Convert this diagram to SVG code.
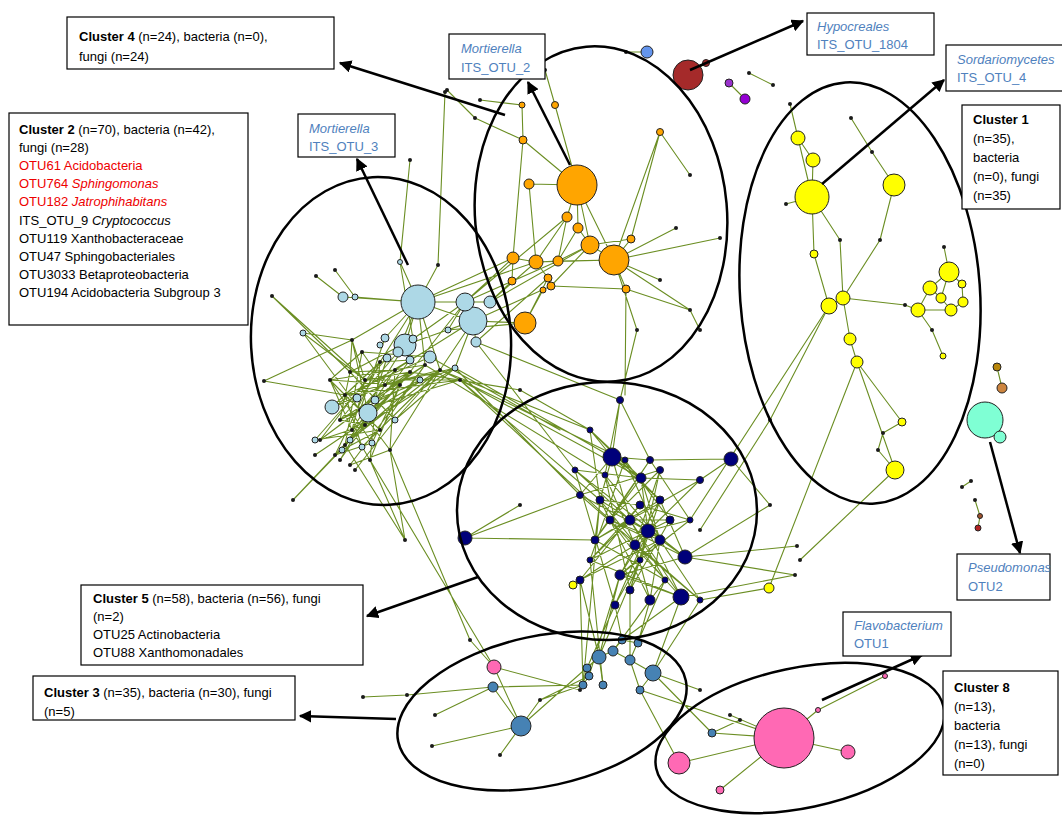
<svg xmlns="http://www.w3.org/2000/svg" width="1062" height="815" viewBox="0 0 1062 815">
<defs>
<style>
.e{fill:none;stroke:#6b8e23;stroke-width:1.1;stroke-linecap:round}
.d{fill:#1a1a1a}
.n{stroke:#222;stroke-width:1}
.lb{fill:#add8e6}.or{fill:#ffa500}.ye{fill:#ffff00}.nv{fill:#00007a}.sb{fill:#4682b4}.pk{fill:#ff69b4}
.ell{fill:none;stroke:#000;stroke-width:2.5}
.box{fill:#fff;stroke:#000;stroke-width:1.2}
.t{font-family:"Liberation Sans",Arial,sans-serif;font-size:13px;fill:#000}
.bl{fill:#4f81bd}
.r{fill:#ee0000}
.b{font-weight:bold}
.i{font-style:italic}
.arr{stroke:#000;stroke-width:2.5;fill:none;marker-end:url(#ah)}
</style>
<marker id="ah" viewBox="0 0 10 10" refX="9" refY="5" markerWidth="5" markerHeight="5" orient="auto" markerUnits="strokeWidth"><path d="M0 0L10 5L0 10z" fill="#000"/></marker>
</defs>
<rect width="1062" height="815" fill="#fff"/>
<g id="connectors">
<path class="e" d="M418 302L405 345M418 302L398 352M418 302L385 338M418 302L380 362M418 302L355 297M418 302L465 302M418 302L473 321M418 302L425 365M418 302L352 340M418 302L343 297M418 302L400 262M418 302L440 370M473 321L440 370M473 321L448 330M473 321L455 368M473 321L405 345M473 321L395 370M473 321L476 342M465 302L448 330M465 302L410 372M465 302L413 339M465 302L490 302M352 340L350 372M352 340L365 380M362 352L385 385M380 362L345 395M395 370L360 410M410 372L365 425M425 365L380 430M440 370L390 450M350 372L340 420M365 380L352 430M385 385L345 445M400 385L370 460M345 395L380 430M360 410L390 450M340 420L365 425M352 430L370 460M365 425L320 440M380 430L330 380M345 445L362 352M370 460L380 362M390 450L395 370M320 440L410 372M330 380L425 365M455 368L385 385M460 380L365 380M460 380L360 410M455 368L365 425M440 370L345 395M425 365L340 420M410 372L345 445M395 370L350 372M380 362L320 440M362 352L330 380M368 413L352 340M368 413L440 370M332 407L380 362M332 407L385 385M375 400L455 368M375 400L425 365M357 398L410 372M303 333L365 380M303 333L360 410M342 450L395 370M362 447L440 370M372 443L400 385M345 395L460 380M330 380L400 385M400 385L352 430M410 372L400 385M430 357L362 352M430 357L345 395M413 339L350 372M398 352L340 420M405 345L352 430M385 338L360 410M340 420L420 380M395 420L350 372M395 420L440 370M350 440L410 360M315 440L387 358M315 440L380 430M335 455L410 372M335 455L380 362M350 465L425 365M355 470L395 420M340 460L368 413M372 443L330 380M362 447L345 395M342 450L380 430M350 440L440 370M395 420L455 368M420 380L345 445M387 358L365 425M410 360L332 407M320 440L360 410M330 380L352 430M345 395L340 420M365 380L410 372M380 362L410 360M335 455L372 443M350 465L390 450M340 460L365 425"/>
<path class="e" d="M272 296L350 372M272 296L365 380M264 381L345 395M264 381L352 340M303 333L352 340M293 500L345 445M293 500L365 425M315 455L352 430M405 540L370 460M405 540L390 450M316 276L343 297M335 270L355 297M400 262L413 339M445 92L438 265M438 265L418 302M410 160L400 262M440 370L590 430M455 368L612 457M460 380L600 500M476 342L575 470M425 365L605 475M440 370L625 460M455 368L580 495M460 380L641 478M476 342L620 400M430 357L560 430M410 372L520 390M520 390L590 430M460 380L610 520M370 460L494 667M390 450L470 640M345 445L405 540M465 302L513 258M490 302L536 262M418 302L513 258M473 321L525 323M465 302L558 261M490 302L590 245M418 302L536 262M476 342L548 278M473 321L551 286M448 330L525 323M490 302L512 281M465 302L567 217"/>
<path class="e" d="M577 185L555 105M577 185L523 140M577 185L529 184M577 185L567 217M577 185L578 228M577 185L590 245M577 185L614 260M567 217L536 262M567 217L558 261M578 228L558 261M578 228L590 245M590 245L614 260M590 245L631 239M614 260L626 289M614 260L631 239M614 260L690 310M614 260L660 280M536 262L513 258M536 262L548 278M536 262L558 261M513 258L512 281M548 278L551 286M548 278L525 323M525 323L543 290M558 261L590 245M558 261L614 260M551 286L626 289M536 262L614 260M660 132L690 175M660 132L614 260M523 140L522 105M522 105L480 100M555 105L545 70M447 90L475 118M475 118L523 140M614 260L676 228M614 260L720 238M626 289L625 395M614 260L637 330M637 330L620 400M590 245L551 286M529 184L536 262M523 140L513 258M660 132L631 239M626 289L690 310M690 310L700 330"/>
<path class="e" d="M612 457L641 478M612 457L600 500M612 457L630 520M612 457L660 500M612 457L590 430M612 457L620 400M612 457L650 460M612 457L580 495M641 478L648 531M641 478L610 520M641 478L660 540M641 478L595 540M641 478L700 480M641 478L575 470M648 531L685 557M648 531L681 597M648 531L620 575M648 531L600 500M648 531L580 495M648 531L690 520M648 531L630 590M660 540L610 520M660 540L620 575M660 540L700 600M660 540L625 460M635 545L660 470M635 545L580 580M635 545L650 600M635 545L605 475M630 520L681 597M630 520L665 580M630 520L590 560M630 520L670 520M610 520L640 560M610 520L660 470M610 520L685 557M600 500L640 505M600 500L650 600M600 500L595 540M660 500L595 540M660 500L620 575M660 500L685 557M640 505L580 580M640 505L690 520M670 520L590 560M670 520L630 590M650 460L595 540M650 460L690 520M660 470L580 495M700 480L648 531M700 480L630 520M575 470L630 520M605 475L660 540M625 460L670 520M590 560L681 597M640 560L615 605M665 580L600 500M690 520L620 575M700 600L635 545M580 580L660 540M630 590L660 500M615 605L648 531M685 557L620 575M681 597L610 520M650 600L660 540M620 575L681 597M590 430L641 478M620 400L650 460M620 400L605 475M590 430L600 500M575 470L685 557M731 459L700 480M731 459L650 460M731 459L770 505M685 557L797 546M681 597L795 575M685 557L795 575M465 538L580 495M465 538L595 540M465 538L520 505M620 575L599 657M650 600L613 651M615 605L587 668M630 590L630 660M681 597L653 673M580 580L583 685M615 605L622 640M650 600L638 643M700 600L653 673M590 560L603 685M665 580L630 660M620 575L589 676M600 500L583 685M640 560L599 657M580 580L599 657M665 580L613 651M681 597L622 640M685 557L770 505M700 600L769 588M690 520L829 306M590 560L640 505M595 540L665 580M605 475L630 590M625 460L590 560M660 470L640 560M575 470L615 605M580 495L700 600M650 460L610 520M700 480L595 540M590 430L660 500"/>
<path class="e" d="M521 726L493 687M521 726L540 700M521 726L500 755M521 726L432 746M493 687L407 695M493 687L435 715M407 695L363 697M599 657L613 651M599 657L587 668M630 660L613 651M653 673L630 660M653 673L712 733M653 673L640 690M583 685L589 676M603 685L599 657M587 668L583 685M640 690L630 660M638 643L622 640M622 640L613 651M540 700L583 685M653 673L700 690M712 733L740 720M540 700L589 676M493 687L583 685M521 726L599 657M784 738L679 763M784 738L720 790M784 738L848 752M784 738L818 710M818 710L885 676M784 738L712 733M784 738L640 690M679 763L640 690M784 738L730 715M494 667L470 640M494 667L580 690M494 667L521 726"/>
<path class="e" d="M812 197L798 138M812 197L813 160M812 197L786 204M812 197L814 254M812 197L840 240M840 240L843 298M814 254L829 306M829 306L843 298M843 298L850 339M850 339L857 362M857 362L895 470M857 362L902 422M902 422L883 433M883 433L878 450M878 450L895 470M894 185L872 152M872 152L851 118M894 185L880 240M880 240L843 298M949 272L930 288M949 272L962 284M949 272L941 298M930 288L941 298M930 288L918 310M941 298L951 310M951 310L963 302M963 302L962 284M918 310L951 310M949 272L944 247M918 310L905 305M905 305L843 298M918 310L932 330M932 330L943 356M829 306L770 420M770 420L700 530M857 362L769 588M895 470L800 560M798 138L790 104M813 160L798 138M688 75L706 63M647 52L626 52M749 73L773 85M729 83L745 99M985 420L1000 437M997 367L1002 388M962 487L971 481M975 500L980 516M980 516L978 528M987 573L975 578M987 573L970 590M975 578L979 590"/>
</g>
<g id="dots">
<g class="d">
<circle cx="352" cy="340" r="2"/><circle cx="362" cy="352" r="2"/><circle cx="380" cy="362" r="2"/><circle cx="395" cy="370" r="2"/><circle cx="410" cy="372" r="2"/><circle cx="425" cy="365" r="2"/><circle cx="440" cy="370" r="2"/><circle cx="350" cy="372" r="2"/><circle cx="365" cy="380" r="2"/><circle cx="385" cy="385" r="2"/><circle cx="400" cy="385" r="2"/><circle cx="345" cy="395" r="2"/><circle cx="360" cy="410" r="2"/><circle cx="340" cy="420" r="2"/><circle cx="352" cy="430" r="2"/><circle cx="365" cy="425" r="2"/><circle cx="380" cy="430" r="2"/><circle cx="345" cy="445" r="2"/><circle cx="370" cy="460" r="2"/><circle cx="390" cy="450" r="2"/><circle cx="320" cy="440" r="2"/><circle cx="330" cy="380" r="2"/><circle cx="460" cy="380" r="2"/><circle cx="335" cy="455" r="2"/><circle cx="350" cy="465" r="2"/><circle cx="355" cy="470" r="2"/><circle cx="340" cy="460" r="2"/>
<circle cx="272" cy="296" r="2"/><circle cx="264" cy="381" r="2"/><circle cx="293" cy="500" r="2"/><circle cx="315" cy="455" r="2"/><circle cx="405" cy="540" r="2"/><circle cx="316" cy="276" r="2"/><circle cx="335" cy="270" r="2"/><circle cx="445" cy="92" r="2"/><circle cx="410" cy="160" r="2"/><circle cx="438" cy="265" r="2"/><circle cx="520" cy="390" r="2"/><circle cx="480" cy="100" r="2"/><circle cx="545" cy="70" r="2"/><circle cx="447" cy="90" r="2"/><circle cx="475" cy="118" r="2"/><circle cx="690" cy="175" r="2"/><circle cx="660" cy="280" r="2"/><circle cx="690" cy="310" r="2"/><circle cx="676" cy="228" r="2"/><circle cx="720" cy="238" r="2"/><circle cx="637" cy="330" r="2"/><circle cx="700" cy="330" r="2"/><circle cx="770" cy="505" r="2"/><circle cx="797" cy="546" r="2"/><circle cx="795" cy="575" r="2"/><circle cx="520" cy="505" r="2"/><circle cx="500" cy="755" r="2"/><circle cx="432" cy="746" r="2"/><circle cx="435" cy="715" r="2"/><circle cx="407" cy="695" r="2"/><circle cx="363" cy="697" r="2"/><circle cx="540" cy="700" r="2"/><circle cx="700" cy="690" r="2"/><circle cx="740" cy="720" r="2"/><circle cx="730" cy="715" r="2"/><circle cx="470" cy="640" r="2"/><circle cx="580" cy="690" r="2"/><circle cx="840" cy="240" r="2"/><circle cx="880" cy="240" r="2"/><circle cx="872" cy="152" r="2"/><circle cx="851" cy="118" r="2"/><circle cx="905" cy="305" r="2"/><circle cx="932" cy="330" r="2"/><circle cx="944" cy="247" r="2"/><circle cx="790" cy="104" r="2"/><circle cx="770" cy="420" r="2"/><circle cx="700" cy="530" r="2"/><circle cx="800" cy="560" r="2"/><circle cx="626" cy="52" r="2"/><circle cx="749" cy="73" r="2"/><circle cx="773" cy="85" r="2"/><circle cx="962" cy="487" r="2"/><circle cx="971" cy="481" r="2"/><circle cx="975" cy="500" r="2"/><circle cx="975" cy="578" r="2"/><circle cx="970" cy="590" r="2"/><circle cx="979" cy="590" r="2"/><circle cx="786" cy="204" r="2"/><circle cx="883" cy="433" r="2"/><circle cx="878" cy="450" r="2"/>
</g>
</g>
<g id="cluster2-nodes" class="n lb">
<circle cx="418" cy="302" r="17"/><circle cx="473" cy="321" r="14"/><circle cx="465" cy="302" r="9"/><circle cx="405" cy="345" r="11"/><circle cx="368" cy="413" r="9"/><circle cx="332" cy="407" r="7"/><circle cx="343" cy="297" r="5"/><circle cx="355" cy="297" r="3"/><circle cx="490" cy="302" r="6"/><circle cx="476" cy="342" r="5"/><circle cx="430" cy="357" r="6"/><circle cx="398" cy="352" r="5"/><circle cx="413" cy="339" r="4"/><circle cx="385" cy="338" r="4"/><circle cx="448" cy="330" r="3"/><circle cx="375" cy="400" r="4"/><circle cx="303" cy="333" r="3"/><circle cx="357" cy="398" r="4"/><circle cx="342" cy="450" r="3"/><circle cx="362" cy="447" r="3"/><circle cx="372" cy="443" r="3"/><circle cx="400" cy="262" r="2.5"/><circle cx="410" cy="360" r="4"/><circle cx="387" cy="358" r="4"/><circle cx="420" cy="380" r="3"/><circle cx="395" cy="420" r="3"/><circle cx="350" cy="440" r="3"/><circle cx="315" cy="440" r="3"/><circle cx="455" cy="368" r="3"/><circle cx="380" cy="345" r="3"/>
</g>
<g id="cluster4-nodes" class="n or">
<circle cx="577" cy="185" r="20"/><circle cx="614" cy="260" r="15"/><circle cx="525" cy="323" r="11"/><circle cx="590" cy="245" r="9"/><circle cx="536" cy="262" r="7"/><circle cx="513" cy="258" r="6"/><circle cx="567" cy="217" r="5"/><circle cx="578" cy="228" r="5"/><circle cx="529" cy="184" r="5"/><circle cx="523" cy="140" r="4"/><circle cx="558" cy="261" r="5"/><circle cx="548" cy="278" r="4"/><circle cx="551" cy="286" r="4"/><circle cx="626" cy="289" r="4"/><circle cx="631" cy="239" r="4"/><circle cx="660" cy="132" r="3.5"/><circle cx="555" cy="105" r="3.5"/><circle cx="522" cy="105" r="3"/><circle cx="543" cy="290" r="3"/><circle cx="512" cy="281" r="4"/>
</g>
<g id="cluster5-nodes" class="n nv">
<circle cx="612" cy="457" r="9"/><circle cx="731" cy="459" r="7"/><circle cx="685" cy="557" r="7"/><circle cx="681" cy="597" r="8"/><circle cx="648" cy="531" r="7"/><circle cx="465" cy="538" r="7"/><circle cx="641" cy="478" r="5"/><circle cx="660" cy="540" r="5"/><circle cx="635" cy="545" r="5"/><circle cx="620" cy="575" r="5"/><circle cx="650" cy="600" r="5"/><circle cx="590" cy="430" r="3"/><circle cx="620" cy="400" r="3.5"/><circle cx="600" cy="500" r="4"/><circle cx="630" cy="520" r="5"/><circle cx="610" cy="520" r="4"/><circle cx="660" cy="500" r="4"/><circle cx="580" cy="495" r="3.5"/><circle cx="640" cy="505" r="4"/><circle cx="670" cy="520" r="4"/><circle cx="650" cy="460" r="3.5"/><circle cx="595" cy="540" r="4"/><circle cx="615" cy="605" r="4"/><circle cx="660" cy="470" r="3.5"/><circle cx="700" cy="480" r="3.5"/><circle cx="575" cy="470" r="3"/><circle cx="605" cy="475" r="3"/><circle cx="625" cy="460" r="3"/><circle cx="590" cy="560" r="3"/><circle cx="640" cy="560" r="3"/><circle cx="665" cy="580" r="3"/><circle cx="690" cy="520" r="3"/><circle cx="700" cy="600" r="3"/><circle cx="580" cy="580" r="4"/><circle cx="630" cy="590" r="4"/>
</g>
<g id="cluster3-nodes" class="n sb">
<circle cx="521" cy="726" r="10"/><circle cx="653" cy="673" r="8"/><circle cx="599" cy="657" r="7"/><circle cx="630" cy="660" r="5"/><circle cx="613" cy="651" r="5"/><circle cx="587" cy="668" r="4"/><circle cx="622" cy="640" r="4"/><circle cx="493" cy="687" r="5"/><circle cx="712" cy="733" r="4"/><circle cx="638" cy="643" r="4"/><circle cx="583" cy="685" r="4"/><circle cx="603" cy="685" r="4"/><circle cx="640" cy="690" r="4"/><circle cx="589" cy="676" r="4"/>
</g>
<g id="cluster8-nodes" class="n pk">
<circle cx="784" cy="738" r="30"/><circle cx="679" cy="763" r="11"/><circle cx="494" cy="667" r="7"/><circle cx="848" cy="752" r="7"/><circle cx="720" cy="790" r="4"/><circle cx="818" cy="710" r="2.5"/><circle cx="885" cy="676" r="2.5"/>
</g>
<g id="cluster1-nodes" class="n ye">
<circle cx="812" cy="197" r="17"/><circle cx="894" cy="185" r="11"/><circle cx="798" cy="138" r="7"/><circle cx="813" cy="160" r="7"/><circle cx="949" cy="272" r="10"/><circle cx="930" cy="288" r="7"/><circle cx="918" cy="310" r="7"/><circle cx="951" cy="310" r="6"/><circle cx="941" cy="298" r="5"/><circle cx="963" cy="302" r="5"/><circle cx="962" cy="284" r="4"/><circle cx="829" cy="306" r="8"/><circle cx="843" cy="298" r="7"/><circle cx="850" cy="339" r="6"/><circle cx="857" cy="362" r="6"/><circle cx="895" cy="470" r="9"/><circle cx="902" cy="422" r="4"/><circle cx="814" cy="254" r="4"/><circle cx="943" cy="356" r="3"/><circle cx="769" cy="588" r="5"/><circle cx="573" cy="585" r="4"/>
</g>
<g id="other-nodes" class="n">
<circle cx="688" cy="75" r="15" fill="#a52a2a"/><circle cx="706" cy="63" r="3.5" fill="#a52a2a"/><circle cx="647" cy="52" r="6" fill="#6495ed"/><circle cx="729" cy="83" r="4" fill="#9932cc"/><circle cx="745" cy="99" r="5" fill="#9400d3"/><circle cx="985" cy="420" r="18" fill="#7fffd4"/><circle cx="1000" cy="437" r="6" fill="#7fffd4"/><circle cx="997" cy="367" r="4" fill="#b8860b"/><circle cx="1002" cy="388" r="5" fill="#cd853f"/><circle cx="978" cy="528" r="3" fill="#b22222"/><circle cx="980" cy="516" r="2.5" fill="#a0522d"/><circle cx="987" cy="573" r="4" fill="#9400d3"/>
</g>
<g id="ellipses">
<ellipse class="ell" cx="381" cy="341" rx="130" ry="164" transform="rotate(-3 381 341)"/>
<ellipse class="ell" cx="601" cy="214" rx="126" ry="168" transform="rotate(-5 601 214)"/>
<ellipse class="ell" cx="860" cy="293" rx="120" ry="211" transform="rotate(-4 860 293)"/>
<ellipse class="ell" cx="607" cy="511" rx="150" ry="129"/>
<ellipse class="ell" cx="542" cy="711" rx="147" ry="75" transform="rotate(-12 542 711)"/>
<ellipse class="ell" cx="800" cy="738" rx="147" ry="70" transform="rotate(-12 800 738)"/>
</g>
<g id="arrows">
<path class="arr" d="M505 115L340 63"/>
<path class="arr" d="M570 165L528 82"/>
<path class="arr" d="M408 265L357 159"/>
<path class="arr" d="M690 70L803 21"/>
<path class="arr" d="M822 184L944 80"/>
<path class="arr" d="M478 577L367 616"/>
<path class="arr" d="M396 719L300 716"/>
<path class="arr" d="M990 442L1020 553"/>
<path class="arr" d="M822 700L922 655"/>
</g>
<g id="box-cluster4"><rect class="box" x="67" y="17" width="267" height="52"/>
<text class="t" x="79" y="41"><tspan class="b">Cluster 4</tspan> (n=24), bacteria (n=0),</text><text class="t" x="79" y="61">fungi (n=24)</text></g>
<g id="box-cluster2"><rect class="box" x="9" y="113" width="239" height="212"/>
<text class="t" x="19" y="134"><tspan class="b">Cluster 2</tspan> (n=70), bacteria (n=42),</text>
<text class="t" x="19" y="152">fungi (n=28)</text>
<text class="t r" x="19" y="170">OTU61 Acidobacteria</text>
<text class="t r" x="19" y="188">OTU764 <tspan class="i">Sphingomonas</tspan></text>
<text class="t r" x="19" y="206">OTU182 <tspan class="i">Jatrophihabitans</tspan></text>
<text class="t" x="19" y="225">ITS_OTU_9 <tspan class="i">Cryptococcus</tspan></text>
<text class="t" x="19" y="243">OTU119 Xanthobacteraceae</text>
<text class="t" x="19" y="261">OTU47 Sphingobacteriales</text>
<text class="t" x="19" y="279">OTU3033 Betaproteobacteria</text>
<text class="t" x="19" y="297">OTU194 Acidobacteria Subgroup 3</text></g>
<g id="box-mort2"><rect class="box" x="449" y="34" width="96" height="45"/>
<text class="t bl" x="461" y="53"><tspan class="i">Mortierella</tspan></text><text class="t bl" x="461" y="72">ITS_OTU_2</text></g>
<g id="box-mort3"><rect class="box" x="298" y="114" width="97" height="43"/>
<text class="t bl" x="309" y="133"><tspan class="i">Mortierella</tspan></text><text class="t bl" x="309" y="151">ITS_OTU_3</text></g>
<g id="box-hypo"><rect class="box" x="807" y="13" width="127" height="42"/>
<text class="t bl" x="817" y="31"><tspan class="i">Hypocreales</tspan></text><text class="t bl" x="817" y="49">ITS_OTU_1804</text></g>
<g id="box-sord"><rect class="box" x="946" y="45" width="118" height="46"/>
<text class="t bl" x="957" y="64"><tspan class="i">Sordariomycetes</tspan></text><text class="t bl" x="957" y="82">ITS_OTU_4</text></g>
<g id="box-cluster1"><rect class="box" x="962" y="105" width="98" height="104"/>
<text class="t" x="973" y="124"><tspan class="b">Cluster 1</tspan></text>
<text class="t" x="973" y="143">(n=35),</text>
<text class="t" x="973" y="162">bacteria</text>
<text class="t" x="973" y="181">(n=0), fungi</text>
<text class="t" x="973" y="200">(n=35)</text></g>
<g id="box-cluster5"><rect class="box" x="81" y="585" width="282" height="80"/>
<text class="t" x="93" y="603"><tspan class="b">Cluster 5</tspan> (n=58), bacteria (n=56), fungi</text>
<text class="t" x="93" y="621">(n=2)</text>
<text class="t" x="93" y="639">OTU25 Actinobacteria</text>
<text class="t" x="93" y="657">OTU88 Xanthomonadales</text></g>
<g id="box-cluster3"><rect class="box" x="33" y="676" width="262" height="44"/>
<text class="t" x="44" y="697"><tspan class="b">Cluster 3</tspan> (n=35), bacteria (n=30), fungi</text>
<text class="t" x="44" y="716">(n=5)</text></g>
<g id="box-flavo"><rect class="box" x="843" y="612" width="108" height="44"/>
<text class="t bl" x="854" y="630"><tspan class="i">Flavobacterium</tspan></text><text class="t bl" x="854" y="648">OTU1</text></g>
<g id="box-cluster8"><rect class="box" x="943" y="671" width="115" height="104"/>
<text class="t" x="954" y="692"><tspan class="b">Cluster 8</tspan></text>
<text class="t" x="954" y="711">(n=13),</text>
<text class="t" x="954" y="730">bacteria</text>
<text class="t" x="954" y="749">(n=13), fungi</text>
<text class="t" x="954" y="768">(n=0)</text></g>
<g id="box-pseudo"><rect class="box" x="957" y="554" width="93" height="46"/>
<text class="t bl" x="968" y="572"><tspan class="i">Pseudomonas</tspan></text><text class="t bl" x="968" y="591">OTU2</text></g>
</svg>
